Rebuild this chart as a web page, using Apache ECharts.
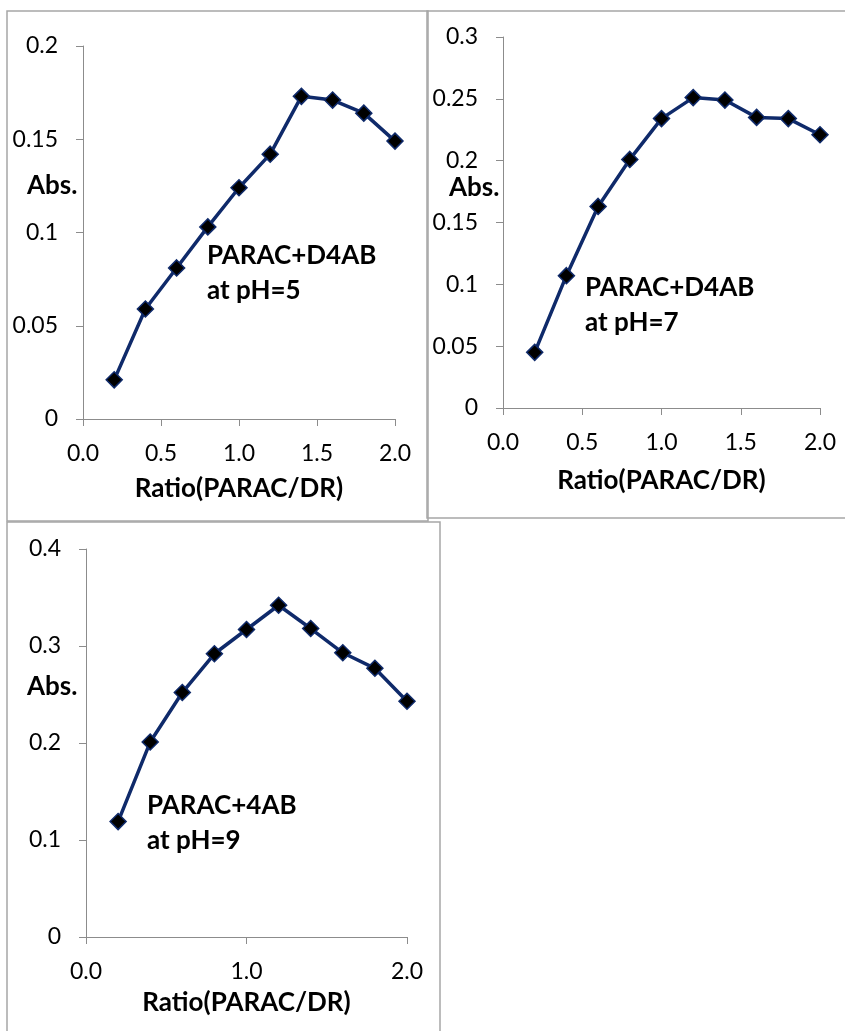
<!DOCTYPE html>
<html>
<head>
<meta charset="utf-8">
<script src="https://cdn.jsdelivr.net/npm/echarts@6/dist/echarts.min.js"></script>
<style>
  html, body { margin: 0; padding: 0; background: #fff; }
  #chart { width: 845px; height: 1031px; }
</style>
</head>
<body>
<div id="chart"></div>
<script>
// Mole-ratio data: absorbance vs. ratio (PARAC/DR)
const ratio = [0.2, 0.4, 0.6, 0.8, 1.0, 1.2, 1.4, 1.6, 1.8, 2.0];
const absPH5 = [0.021, 0.059, 0.081, 0.103, 0.124, 0.142, 0.173, 0.171, 0.164, 0.149];
const absPH7 = [0.045, 0.107, 0.163, 0.201, 0.234, 0.251, 0.249, 0.235, 0.234, 0.221];
const absPH9 = [0.119, 0.201, 0.252, 0.292, 0.317, 0.342, 0.318, 0.293, 0.277, 0.243];
const yMax = [0.2, 0.3, 0.4];
const yStep = [0.05, 0.05, 0.1];
const xStep = [0.5, 0.5, 1.0];
const xTitle = 'Ratio(PARAC/DR)';
const yTitle = 'Abs.';
const notes = [['PARAC+D4AB', 'at pH=5'], ['PARAC+D4AB', 'at pH=7'], ['PARAC+4AB', 'at pH=9']];

const FONT = 'Lato, "Liberation Sans", sans-serif';
const AXIS_GRAY = '#8c8c8c';
const LINE_NAVY = '#0f2a6a';

const grids = [
  { left: 83, top: 46, width: 312, height: 373 },
  { left: 503, top: 37, width: 317, height: 371 },
  { left: 86, top: 549, width: 321, height: 388 }
];
const nameGaps = [57, 60, 53];

const toPairs = arr => ratio.map((r, i) => [r, arr[i]]);
const seriesData = [absPH5, absPH7, absPH9].map(toPairs);

const xAxes = grids.map((g, i) => ({
  type: 'value', gridIndex: i, min: 0, max: 2, interval: xStep[i],
  name: xTitle, nameLocation: 'middle', nameGap: nameGaps[i],
  nameTextStyle: { fontFamily: FONT, fontSize: 26, fontWeight: 'bold', color: '#000' },
  axisLine: { show: true, onZero: false, lineStyle: { color: AXIS_GRAY, width: 1 } },
  axisTick: { show: true, length: 7, lineStyle: { color: AXIS_GRAY } },
  axisLabel: { fontFamily: FONT, fontSize: 23, color: '#000', margin: 23,
               formatter: v => v.toFixed(1) },
  splitLine: { show: false }
}));

const yAxes = grids.map((g, i) => ({
  type: 'value', gridIndex: i, min: 0, max: yMax[i], interval: yStep[i],
  axisLine: { show: true, lineStyle: { color: AXIS_GRAY, width: 1 } },
  axisTick: { show: true, length: 7, lineStyle: { color: AXIS_GRAY } },
  axisLabel: { fontFamily: FONT, fontSize: 23, color: '#000', margin: 25,
               formatter: v => String(+v.toFixed(3)) },
  splitLine: { show: false }
}));

const series = seriesData.map((d, i) => ({
  type: 'line', xAxisIndex: i, yAxisIndex: i, data: d,
  symbol: 'diamond', symbolSize: 16, showAllSymbol: true,
  lineStyle: { color: LINE_NAVY, width: 3.5 },
  itemStyle: { color: '#000', borderColor: LINE_NAVY, borderWidth: 1.5 },
  animation: false
}));

// Panel frames, axis titles and annotations
const frames = [
  { x: 7, y: 11, width: 421, height: 510 },
  { x: 427, y: 11, width: 440, height: 507 },
  { x: 7, y: 522, width: 433, height: 530 }
];
const absPos = [[27, 186], [449, 188], [27, 687]];
const notePos = [[207, 273], [585, 305], [147, 823]];

const graphic = [];
frames.forEach(f => graphic.push({
  type: 'rect', shape: f, silent: true, z: -1,
  style: { fill: 'none', stroke: '#a6a6a6', lineWidth: 1.5 }
}));
absPos.forEach(p => graphic.push({
  type: 'text', x: p[0], y: p[1],
  style: { text: yTitle, font: 'bold 26px ' + FONT, fill: '#000', verticalAlign: 'middle' }
}));
notePos.forEach((p, i) => graphic.push({
  type: 'text', x: p[0], y: p[1],
  style: { text: notes[i].join('\n'), font: 'bold 26px ' + FONT, fill: '#000',
           lineHeight: 35, verticalAlign: 'middle' }
}));

const chart = echarts.init(document.getElementById('chart'), null, { renderer: 'canvas' });
chart.setOption({
  backgroundColor: '#fff',
  animation: false,
  grid: grids,
  xAxis: xAxes,
  yAxis: yAxes,
  series: series,
  graphic: graphic
});
</script>
</body>
</html>
